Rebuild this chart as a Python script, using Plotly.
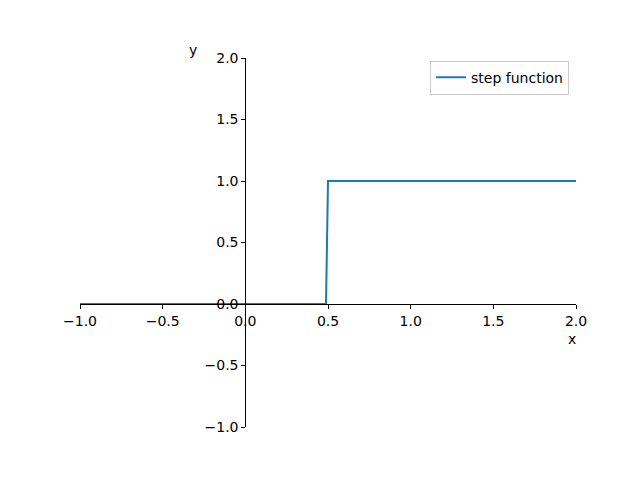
import plotly.graph_objects as go

# data
x_vals = [-1.0, 0.488, 0.5, 2.0]
y_vals = [0.0, 0.0, 1.0, 1.0]
tick_vals = [-1.0, -0.5, 0.0, 0.5, 1.0, 1.5, 2.0]
tick_text = ["\u22121.0", "\u22120.5", "0.0", "0.5", "1.0", "1.5", "2.0"]

FONT = dict(family="DejaVu Sans", size=14, color="black")

fig = go.Figure()
fig.add_trace(go.Scatter(x=x_vals, y=y_vals, mode="lines", name="step function",
                         line=dict(color="#1f77b4", width=2)))

axis_common = dict(range=[-1, 2], domain=[0, 1], anchor="free", position=1/3,
                   showline=True, linecolor="black", linewidth=1,
                   ticks="outside", ticklen=4, tickwidth=1, tickcolor="black",
                   tickvals=tick_vals, ticktext=tick_text, showgrid=False,
                   zeroline=False, tickfont=FONT)

fig.update_layout(
    width=640, height=480,
    margin=dict(l=72, r=72, t=50, b=61),
    plot_bgcolor="white", paper_bgcolor="white",
    xaxis=axis_common,
    yaxis=axis_common,
    showlegend=True,
    legend=dict(x=0.986, y=0.993, xanchor="right", yanchor="top",
                bgcolor="white", bordercolor="#cccccc", borderwidth=1,
                itemwidth=30, tracegroupgap=0, font=FONT),
    annotations=[
        dict(text="y", xref="paper", yref="paper", x=0.228, y=1.022, showarrow=False,
             xanchor="center", yanchor="middle", font=FONT),
        dict(text="x", xref="paper", yref="paper", x=0.992, y=0.2385, showarrow=False,
             xanchor="center", yanchor="middle", font=FONT),
    ],
)

fig.write_html("out.html")
